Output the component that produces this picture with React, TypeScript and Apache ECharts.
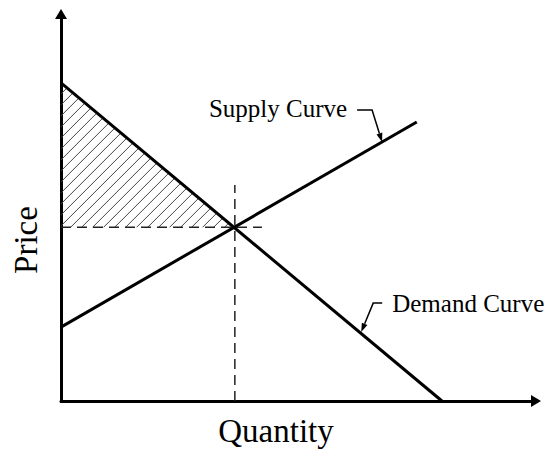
import React, { useEffect, useRef } from "react";
import * as echarts from "echarts";

// Curve endpoints (quantity, price) in axis units, axes run 0..100
const demandQty = [0, 80.2];
const demandPrice = [82.2, 0];
const supplyQty = [0, 74.9];
const supplyPrice = [19.1, 72.1];
const equilibrium = [36.6, 44.9];
const guideEndQty = 42.3;
const guideTopPrice = 55.8;
const curveLabels = ["Supply Curve", "Demand Curve"];
const labelQty = [67.6, 63.2];
const labelPrice = [66.9, 17.8];
const axisTitles = ["Quantity", "Price"];

const SERIF = '"Liberation Serif", "Times New Roman", serif';

const leader = [
  { bend: [-10, -32], end: [-25, -32], text: [-35, -34], align: "right" },
  { bend: [12, -29], end: [21, -29], text: [31, -29], align: "left" },
];

export default function App() {
  const ref = useRef<HTMLDivElement>(null);
  useEffect(() => {
    if (!ref.current) return;
    const chart = echarts.init(ref.current, undefined, { renderer: "svg" });
    const axisCommon = {
      type: "value",
      min: 0,
      max: 100,
      axisLine: {
        show: true,
        onZero: false,
        symbol: ["none", "triangle"],
        symbolSize: [12, 10],
        lineStyle: { color: "#000", width: 3 },
      },
      axisTick: { show: false },
      axisLabel: { show: false },
      splitLine: { show: false },
    };
    const dashed = { color: "#222", width: 1.5, type: [10, 6] };
    chart.setOption({
      animation: false,
      backgroundColor: "#fff",
      grid: { left: 61, top: 14, right: 16, bottom: 57 },
      xAxis: axisCommon,
      yAxis: axisCommon,
      graphic: [
        {
          type: "text",
          x: 276,
          y: 431,
          style: { text: axisTitles[0], font: `33px ${SERIF}`, fill: "#000", align: "center", verticalAlign: "middle" },
        },
        {
          type: "text",
          x: 26,
          y: 240,
          rotation: Math.PI / 2,
          style: { text: axisTitles[1], font: `33px ${SERIF}`, fill: "#000", align: "center", verticalAlign: "middle" },
        },
      ],
      series: [
        {
          type: "custom",
          z: 1,
          data: [equilibrium],
          renderItem: (params: any, api: any) => {
            const top = api.coord([0, demandPrice[0]]);
            const eq = api.coord(equilibrium);
            const x0 = top[0], yTop = top[1], xe = eq[0], ye = eq[1];
            const s = (ye - yTop) / (xe - x0);
            const step = 11;
            const children: any[] = [];
            for (let k = x0 + yTop + step; k < xe + ye - 2; k += step) {
              let x1: number, y1: number;
              if (k - ye >= x0) { x1 = k - ye; y1 = ye; } else { x1 = x0; y1 = k - x0; }
              const x2 = (k - yTop + x0 * s) / (1 + s);
              const y2 = k - x2;
              children.push({ type: "line", shape: { x1, y1, x2, y2 }, style: { stroke: "#444", lineWidth: 1 } });
            }
            return { type: "group", children };
          },
        },
        {
          type: "line",
          z: 2,
          symbol: "none",
          data: [[0, equilibrium[1]], [guideEndQty, equilibrium[1]]],
          lineStyle: dashed,
        },
        {
          type: "line",
          z: 2,
          symbol: "none",
          data: [[equilibrium[0], 0], [equilibrium[0], guideTopPrice]],
          lineStyle: dashed,
        },
        {
          type: "line",
          z: 3,
          symbol: "none",
          data: supplyQty.map((q, i) => [q, supplyPrice[i]]),
          lineStyle: { color: "#000", width: 3 },
        },
        {
          type: "line",
          z: 3,
          symbol: "none",
          data: demandQty.map((q, i) => [q, demandPrice[i]]),
          lineStyle: { color: "#000", width: 3 },
        },
        {
          type: "custom",
          z: 4,
          clip: false,
          data: labelQty.map((q, i) => [q, labelPrice[i]]),
          renderItem: (params: any, api: any) => {
            const i = params.dataIndex;
            const tip = api.coord([api.value(0), api.value(1)]);
            const o = leader[i];
            const bx = tip[0] + o.bend[0], by = tip[1] + o.bend[1];
            const dx = tip[0] - bx, dy = tip[1] - by;
            const len = Math.sqrt(dx * dx + dy * dy);
            const ux = dx / len, uy = dy / len;
            const L = 9, W = 3;
            const baseX = tip[0] - ux * L, baseY = tip[1] - uy * L;
            return {
              type: "group",
              children: [
                {
                  type: "polyline",
                  shape: { points: [[tip[0] + o.end[0], tip[1] + o.end[1]], [bx, by], [baseX, baseY]] },
                  style: { stroke: "#000", lineWidth: 1.5, fill: "none" },
                },
                {
                  type: "polygon",
                  shape: { points: [[tip[0], tip[1]], [baseX - uy * W, baseY + ux * W], [baseX + uy * W, baseY - ux * W]] },
                  style: { fill: "#000" },
                },
                {
                  type: "text",
                  x: tip[0] + o.text[0],
                  y: tip[1] + o.text[1],
                  style: { text: curveLabels[i], font: `25px ${SERIF}`, fill: "#000", align: o.align, verticalAlign: "middle" },
                },
              ],
            };
          },
        },
      ],
    });
    return () => chart.dispose();
  }, []);
  return <div ref={ref} style={{ position: "fixed", left: 0, top: 0, width: 552, height: 458, background: "#fff" }} />;
}
